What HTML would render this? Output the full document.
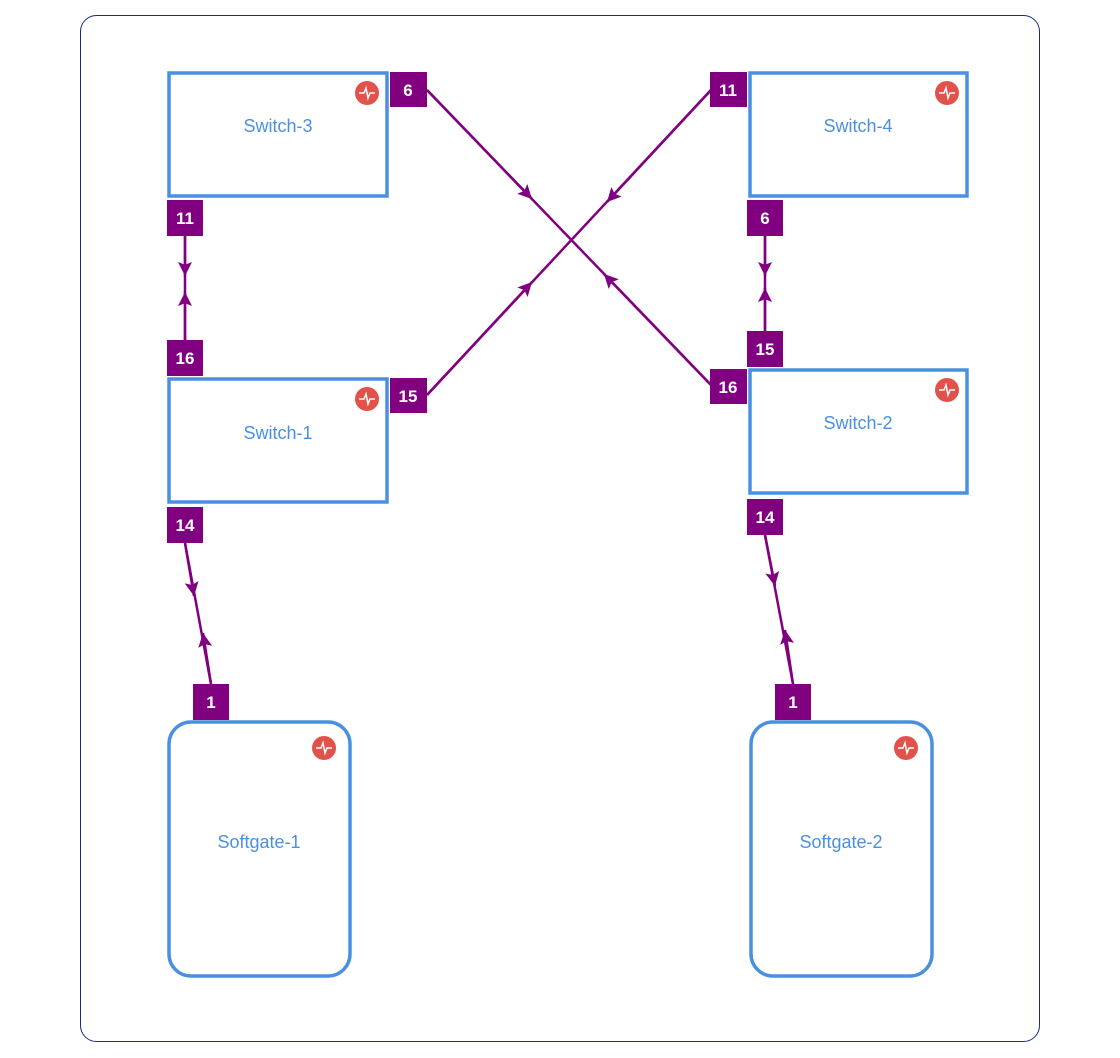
<!DOCTYPE html>
<html><head><meta charset="utf-8"><style>
html,body{margin:0;padding:0;background:#fff;}
svg{display:block;}
text{font-family:"Liberation Sans",Arial,sans-serif;}
</style></head><body>
<svg width="1120" height="1058" viewBox="0 0 1120 1058" xmlns="http://www.w3.org/2000/svg">
<defs>
<marker id="a" viewBox="0 0 10 10" refX="10" refY="5" markerWidth="14" markerHeight="14" markerUnits="userSpaceOnUse" orient="auto">
<path d="M0,0 L10,5 L0,10 L2,5 z" fill="#800080"/>
</marker>
<g id="ic">
<circle cx="0" cy="0" r="12" fill="#e0524a"/>
<path d="M-8,0 H-3 L-1,-5 L1,5 L3,0 H8" stroke="#fff" stroke-width="1.5" fill="none"/>
</g>
</defs>
<rect x="80.5" y="15.5" width="959" height="1026" rx="16" fill="#fff" stroke="#1a2a8c" stroke-width="1"/>

<g stroke="#800080" stroke-width="2.5" fill="none">
<line x1="185" y1="236" x2="185" y2="340"/>
<line x1="765" y1="236" x2="765" y2="331"/>
<line x1="427" y1="90" x2="711" y2="385"/>
<line x1="711" y1="90" x2="427" y2="395"/>
<line x1="185" y1="543" x2="211" y2="684"/>
<line x1="765" y1="535" x2="793" y2="684"/>
<!-- arrow segments -->
<line x1="185" y1="236" x2="185" y2="276" marker-end="url(#a)"/>
<line x1="185" y1="340" x2="185" y2="292" marker-end="url(#a)"/>
<line x1="765" y1="236" x2="765" y2="276" marker-end="url(#a)"/>
<line x1="765" y1="331" x2="765" y2="288" marker-end="url(#a)"/>
<line x1="427" y1="90" x2="532" y2="199" marker-end="url(#a)"/>
<line x1="711" y1="385" x2="604" y2="274" marker-end="url(#a)"/>
<line x1="711" y1="90" x2="607" y2="202" marker-end="url(#a)"/>
<line x1="427" y1="395" x2="532" y2="282" marker-end="url(#a)"/>
<line x1="185" y1="543" x2="194" y2="596" marker-end="url(#a)"/>
<line x1="211" y1="684" x2="203" y2="633" marker-end="url(#a)"/>
<line x1="765" y1="535" x2="775" y2="586" marker-end="url(#a)"/>
<line x1="793" y1="684" x2="785" y2="630" marker-end="url(#a)"/>
</g>

<g fill="#fff" stroke="#4a90e2" stroke-width="3.5">
<rect x="169" y="73" width="218" height="123"/>
<rect x="169" y="379" width="218" height="123"/>
<rect x="750" y="73" width="217" height="123"/>
<rect x="750" y="370" width="217" height="123"/>
<rect x="169" y="722" width="181" height="254" rx="22"/>
<rect x="751" y="722" width="181" height="254" rx="22"/>
</g>
<g font-size="18" fill="#4a90e2" text-anchor="middle">
<text x="278" y="132">Switch-3</text>
<text x="278" y="439">Switch-1</text>
<text x="858" y="132">Switch-4</text>
<text x="858" y="429">Switch-2</text>
<text x="259" y="848">Softgate-1</text>
<text x="841" y="848">Softgate-2</text>
</g>
<use href="#ic" x="367" y="93"/>
<use href="#ic" x="367" y="399"/>
<use href="#ic" x="947" y="93"/>
<use href="#ic" x="947" y="390"/>
<use href="#ic" x="324" y="748"/>
<use href="#ic" x="906" y="748"/>

<g fill="#800080">
<rect x="390" y="72" width="37" height="35"/>
<rect x="167" y="200" width="36" height="36"/>
<rect x="167" y="340" width="36" height="36"/>
<rect x="390" y="378" width="37" height="35"/>
<rect x="167" y="507" width="36" height="36"/>
<rect x="710" y="72" width="37" height="35"/>
<rect x="747" y="200" width="36" height="36"/>
<rect x="747" y="331" width="36" height="36"/>
<rect x="710" y="369" width="37" height="35"/>
<rect x="747" y="499" width="36" height="36"/>
<rect x="193" y="684" width="36" height="36"/>
<rect x="775" y="684" width="36" height="36"/>
</g>
<g font-size="17" font-weight="bold" fill="#fff" text-anchor="middle">
<text x="408" y="96">6</text>
<text x="185" y="224">11</text>
<text x="185" y="364">16</text>
<text x="408" y="402">15</text>
<text x="185" y="531">14</text>
<text x="728" y="96">11</text>
<text x="765" y="224">6</text>
<text x="765" y="355">15</text>
<text x="728" y="393">16</text>
<text x="765" y="523">14</text>
<text x="211" y="708">1</text>
<text x="793" y="708">1</text>
</g>
</svg>
</body></html>
